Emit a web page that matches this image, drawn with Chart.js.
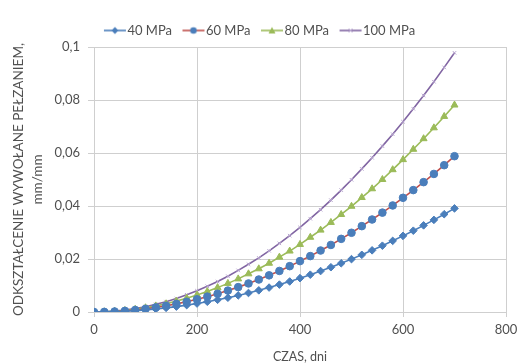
<!DOCTYPE html>
<html>
<head>
<meta charset="utf-8">
<script src="https://cdn.jsdelivr.net/npm/chart.js@4.4.0/dist/chart.umd.min.js"></script>
<style>
  html, body { margin: 0; padding: 0; background: #fff; }
  #wrap { width: 520px; height: 364px; }
</style>
</head>
<body>
<div id="wrap"><canvas id="chart" width="520" height="364"></canvas></div>
<script>
// ---- data ----
const days = [0, 20, 40, 60, 80, 100, 120, 140, 160, 180, 200, 220, 240, 260, 280, 300, 320, 340,
  360, 380, 400, 420, 440, 460, 480, 500, 520, 540, 560, 580, 600, 620, 640, 660, 680, 700];

const mpa40 = [0, 0.00003, 0.00013, 0.00029, 0.00051, 0.0008, 0.00115, 0.00156, 0.00204, 0.00259,
  0.00319, 0.00386, 0.0046, 0.00539, 0.00626, 0.00718, 0.00817, 0.00922, 0.01034, 0.01152,
  0.01277, 0.01408, 0.01545, 0.01689, 0.01838, 0.01995, 0.02158, 0.02327, 0.02502, 0.02685,
  0.02873, 0.03068, 0.03269, 0.03476, 0.0369, 0.0391];

const mpa60 = [0, 0.00005, 0.00019, 0.00043, 0.00077, 0.0012, 0.00173, 0.00234, 0.00306, 0.00389,
  0.00479, 0.00579, 0.0069, 0.00809, 0.00939, 0.01077, 0.01226, 0.01383, 0.0155, 0.0173,
  0.0192, 0.0211, 0.0232, 0.0253, 0.0276, 0.0299, 0.0324, 0.0349, 0.0375, 0.0402,
  0.0431, 0.046, 0.049, 0.0521, 0.0554, 0.0588];

const mpa80 = [0, 0.00006, 0.00026, 0.00057, 0.00102, 0.0016, 0.0023, 0.0031, 0.0041, 0.0052,
  0.0064, 0.0077, 0.0092, 0.0108, 0.0125, 0.0144, 0.0163, 0.0184, 0.0207, 0.023,
  0.0255, 0.0282, 0.0309, 0.0338, 0.0368, 0.0399, 0.0432, 0.0465, 0.05, 0.0537,
  0.0575, 0.0614, 0.0654, 0.0695, 0.0738, 0.0781];

const mpa100 = [0, 0.00008, 0.00032, 0.00072, 0.0013, 0.002, 0.0029, 0.0039, 0.0051, 0.0065,
  0.008, 0.0097, 0.0115, 0.0135, 0.0157, 0.018, 0.0204, 0.0231, 0.0259, 0.0288,
  0.0319, 0.0352, 0.0386, 0.0422, 0.046, 0.0499, 0.054, 0.0582, 0.0626, 0.0671,
  0.0718, 0.0767, 0.0817, 0.0869, 0.0923, 0.0978];

const seriesNames = ["40 MPa", "60 MPa", "80 MPa", "100 MPa"];
const xTicks = [0, 200, 400, 600, 800];
const yTicks = [0, 0.02, 0.04, 0.06, 0.08, 0.1];
const xTitle = "CZAS, dni";
const yTitle = ["ODKSZTAŁCENIE WYWOŁANE PEŁZANIEM,", "mm/mm"];

// ---- styling ----
const FONT = "Lato";
const TEXT = "#505050";
const GRID = "#cfcfcf";

const styles = [
  { line: "#4a7ebb", marker: "#4a7ebb", shape: "rectRot", r: 3.8 },
  { line: "#c0504d", marker: "#4a7ebb", shape: "circle", r: 3.8 },
  { line: "#9bbb59", marker: "#9bbb59", shape: "triangle", r: 4 },
  { line: "#8064a2", marker: "#b7a5cf", shape: "crossRot", r: 2.5 },
];

const toPoints = (vals) => vals.map((v, i) => ({ x: days[i], y: v }));
const allValues = [mpa40, mpa60, mpa80, mpa100];

const datasets = allValues.map((vals, i) => ({
  label: seriesNames[i],
  data: toPoints(vals),
  borderColor: styles[i].line,
  backgroundColor: styles[i].marker,
  pointBorderColor: styles[i].marker,
  pointBackgroundColor: styles[i].marker,
  pointStyle: styles[i].shape,
  pointRadius: styles[i].r,
  pointBorderWidth: 1,
  borderWidth: 1.6,
  tension: 0,
  fill: false,
}));

// legend icon: line with marker in the middle (Excel style).
// canvas is wider than the legend box so the text sits right after the line
const ICON_W = 44;
function legendIcon(st) {
  const c = document.createElement("canvas");
  c.width = ICON_W;
  c.height = 10;
  const g = c.getContext("2d");
  const x0 = 13, x1 = 35, cx = 24;
  g.strokeStyle = st.line;
  g.lineWidth = 1.6;
  g.beginPath();
  g.moveTo(x0, 5);
  g.lineTo(x1, 5);
  g.stroke();
  g.fillStyle = st.marker;
  g.strokeStyle = st.marker;
  g.beginPath();
  if (st.shape === "rectRot") {
    g.moveTo(cx, 1.5); g.lineTo(cx + 3.5, 5); g.lineTo(cx, 8.5); g.lineTo(cx - 3.5, 5); g.closePath(); g.fill();
  } else if (st.shape === "circle") {
    g.arc(cx, 5, 3.3, 0, Math.PI * 2); g.fill();
  } else if (st.shape === "triangle") {
    g.moveTo(cx, 1.5); g.lineTo(cx + 3.5, 8); g.lineTo(cx - 3.5, 8); g.closePath(); g.fill();
  } else {
    g.lineWidth = 1;
    g.moveTo(cx - 2, 3); g.lineTo(cx + 2, 7); g.moveTo(cx + 2, 3); g.lineTo(cx - 2, 7); g.stroke();
  }
  return c;
}
const icons = styles.map(legendIcon);

const fmt = (v) => String(+Number(v).toFixed(2)).replace(".", ",");

new Chart(document.getElementById("chart"), {
  type: "line",
  data: { datasets },
  options: {
    responsive: false,
    animation: false,
    layout: { padding: 0 },
    plugins: {
      tooltip: { enabled: false },
      legend: {
        position: "top",
        labels: {
          usePointStyle: true,
          pointStyleWidth: 16,
          padding: 11.5,
          color: TEXT,
          font: { family: FONT, size: 13 },
          generateLabels: (chart) =>
            Chart.defaults.plugins.legend.labels.generateLabels(chart).map((l, i) => ({
              ...l,
              pointStyle: icons[i],
            })),
        },
      },
    },
    scales: {
      x: {
        type: "linear",
        min: 0,
        max: 800,
        afterBuildTicks: (s) => { s.ticks = xTicks.map((v) => ({ value: v })); },
        grid: { color: GRID, tickLength: 5, tickColor: GRID },
        border: { color: GRID },
        ticks: { color: TEXT, padding: 5, font: { family: FONT, size: 13 }, maxRotation: 0 },
        title: {
          display: true,
          text: xTitle,
          color: TEXT,
          font: { family: FONT, size: 12.5 },
          padding: { top: 4, bottom: 0 },
        },
        afterFit: (s) => { s.height = 52; s.paddingRight = 14; },
      },
      y: {
        min: 0,
        max: 0.1,
        afterBuildTicks: (s) => { s.ticks = yTicks.map((v) => ({ value: v })); },
        grid: { color: GRID, tickLength: 6, tickColor: GRID },
        border: { color: GRID },
        ticks: { color: TEXT, padding: 8, font: { family: FONT, size: 13 }, callback: fmt },
        title: {
          display: true,
          text: yTitle,
          color: TEXT,
          font: { family: FONT, size: 13.5, lineHeight: 1.4 },
          padding: { top: 9, bottom: 0 },
        },
        afterFit: (s) => { s.width = 94; s.paddingTop = 47; },
      },
    },
  },
});
</script>
</body>
</html>
